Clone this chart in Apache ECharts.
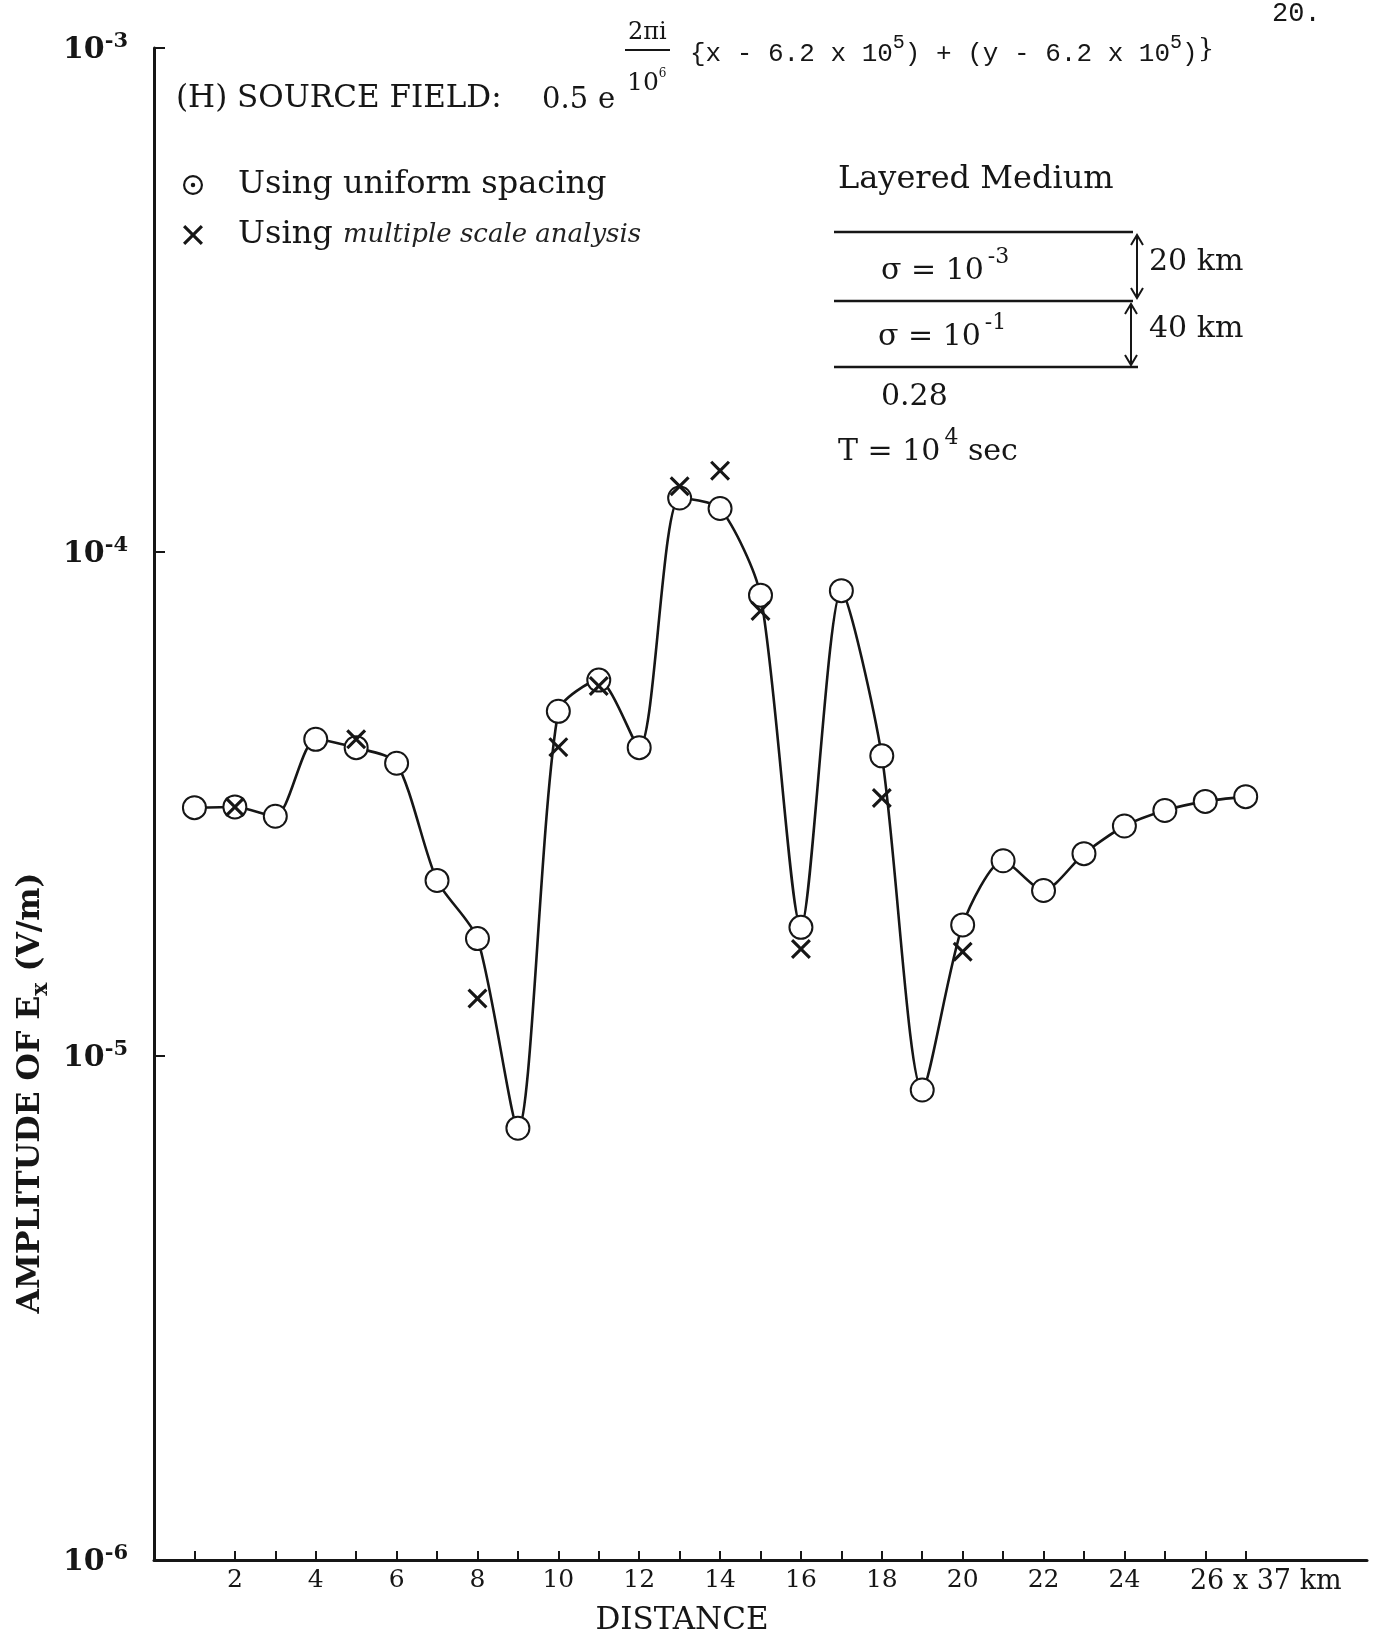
<!DOCTYPE html>
<html>
<head>
<meta charset="utf-8">
<script src="https://cdn.jsdelivr.net/npm/echarts@6/dist/echarts.min.js"></script>
<style>
html,body{margin:0;padding:0;background:#ffffff;}
#chart{width:1373px;height:1648px;}
</style>
</head>
<body>
<div id="chart"></div>
<script>
// ---- data ----
const distance = [1,2,3,4,5,6,7,8,9,10,11,12,13,14,15,16,17,18,19,20,21,22,23,24,25,26,27];
const uniformSpacing = [3.11e-5,3.12e-5,2.99e-5,4.25e-5,4.09e-5,3.81e-5,2.23e-5,1.71e-5,7.19e-6,4.83e-5,5.57e-5,4.09e-5,1.28e-4,1.22e-4,8.21e-5,1.80e-5,8.38e-5,3.94e-5,8.56e-6,1.82e-5,2.44e-5,2.13e-5,2.52e-5,2.86e-5,3.07e-5,3.20e-5,3.27e-5];
const multiScaleDistance = [2,5,8,10,11,13,14,15,16,18,20];
const multiScaleValues = [3.12e-5,4.25e-5,1.30e-5,4.10e-5,5.42e-5,1.35e-4,1.45e-4,7.64e-5,1.63e-5,3.25e-5,1.61e-5];
const xTickValues = [1,2,3,4,5,6,7,8,9,10,11,12,13,14,15,16,17,18,19,20,21,22,23,24,25,26,27];
const xLabelValues = [2,4,6,8,10,12,14,16,18,20,22,24,26];
const lastLabelText = '26 x 37 km';
const seriesNames = ['Using uniform spacing', 'Using multiple scale analysis'];

const INK = '#161616';
const SERIF = 'DejaVu Serif';
const MONO = 'Liberation Mono';

const uniformData = distance.map((d, i) => [d, uniformSpacing[i]]);
const multiData = multiScaleDistance.map((d, i) => [d, multiScaleValues[i]]);

const ringDot = 'path://M12,0A12,12 0 1,1 12,24A12,12 0 1,1 12,0ZM12,2.6A9.4,9.4 0 1,0 12,21.4A9.4,9.4 0 1,0 12,2.6ZM12,9.3A2.7,2.7 0 1,1 12,14.7A2.7,2.7 0 1,1 12,9.3Z';
const xMark = 'path://M0,2.2L2.2,0L10,7.8L17.8,0L20,2.2L12.2,10L20,17.8L17.8,20L10,12.2L2.2,20L0,17.8L7.8,10Z';

const chart = echarts.init(document.getElementById('chart'), null, {renderer: 'canvas'});

function txt(x, y, text, size, extra) {
  const el = {
    type: 'text', x: x, y: y, silent: true,
    style: Object.assign({text: text, fontFamily: SERIF, fontSize: size, fill: INK, align: 'left', verticalAlign: 'middle'}, (extra && extra.style) || {})
  };
  if (extra && extra.rotation !== undefined) el.rotation = extra.rotation;
  return el;
}
function seg(x1, y1, x2, y2, w) {
  return {type: 'line', silent: true, shape: {x1: x1, y1: y1, x2: x2, y2: y2}, style: {stroke: INK, lineWidth: w || 2}};
}
function pl(points, w) {
  return {type: 'polyline', silent: true, shape: {points: points}, style: {stroke: INK, lineWidth: w || 2, fill: null}};
}

const supRich = {
  m: {fontFamily: SERIF, fontSize: 30, color: INK, lineHeight: 40, verticalAlign: 'bottom'},
  s: {fontFamily: SERIF, fontSize: 22, color: INK, lineHeight: 22, verticalAlign: 'top', padding: [0, 0, 0, 4]}
};

const option = {
  backgroundColor: '#ffffff',
  animation: false,
  grid: {left: 154, right: 6, top: 48, bottom: 88, containLabel: false},
  legend: {
    orient: 'vertical', left: 178, top: 162, itemWidth: 20, itemHeight: 20, itemGap: 14,
    selectedMode: false,
    data: [{name: seriesNames[0], icon: ringDot}, {name: seriesNames[1], icon: xMark}],
    itemStyle: {borderWidth: 0},
    lineStyle: {width: 0},
    textStyle: {
      fontFamily: SERIF, fontSize: 32, color: INK, lineHeight: 36, padding: [0, 0, 0, 30],
      rich: {h: {fontFamily: SERIF, fontStyle: 'italic', fontSize: 26, color: '#222', lineHeight: 36}}
    },
    formatter: function (n) { return n === seriesNames[1] ? 'Using {h|multiple scale analysis}' : n; }
  },
  xAxis: {
    type: 'value', min: 0, max: 30, interval: 1,
    axisLine: {show: true, onZero: false, lineStyle: {color: INK, width: 3}},
    axisTick: {show: true, inside: true, length: 9, customValues: xTickValues, lineStyle: {color: INK, width: 2}},
    axisLabel: {
      show: true, customValues: xLabelValues, margin: 8,
      fontFamily: SERIF, fontSize: 25, color: INK,
      formatter: function (v) { return v === 26 ? '{k|' + lastLabelText + '}' : String(v); },
      rich: {k: {fontFamily: SERIF, fontSize: 27, color: INK, padding: [0, 0, 0, 121]}}
    },
    splitLine: {show: false}
  },
  yAxis: {
    type: 'log', logBase: 10, min: 1e-6, max: 1e-3,
    axisLine: {show: true, onZero: false, lineStyle: {color: INK, width: 3}},
    axisTick: {show: true, inside: true, length: 11, lineStyle: {color: INK, width: 2}},
    minorTick: {show: false},
    axisLabel: {
      margin: 26,
      formatter: function (v) { return '{b|10}{s|-' + Math.round(-Math.log10(v)) + '}'; },
      rich: {
        b: {fontFamily: SERIF, fontSize: 30, fontWeight: 'bold', color: INK, lineHeight: 34, verticalAlign: 'bottom'},
        s: {fontFamily: SERIF, fontSize: 21, fontWeight: 'bold', color: INK, lineHeight: 21, verticalAlign: 'top'}
      }
    },
    splitLine: {show: false}
  },
  series: [
    {
      name: seriesNames[0], type: 'line', data: uniformData,
      smooth: 0.25, symbol: 'emptyCircle', symbolSize: 23,
      lineStyle: {color: INK, width: 2.6},
      itemStyle: {color: INK, borderColor: INK, borderWidth: 2.6},
      z: 3
    },
    {
      name: seriesNames[1], type: 'scatter', data: multiData,
      symbol: xMark, symbolSize: 20,
      itemStyle: {color: INK, opacity: 1},
      z: 5
    }
  ],
  graphic: {
    elements: [
      // page number
      txt(1272, 14, '20.', 27, {style: {fontFamily: MONO}}),
      // source field formula
      txt(176, 99, '(H) SOURCE FIELD:', 31),
      txt(542, 100, '0.5', 29),
      txt(598, 100, 'e', 29),
      txt(627, 82, '{a|10}{b|6}', 24, {style: {rich: {
        a: {fontFamily: SERIF, fontSize: 25, color: INK, lineHeight: 28, verticalAlign: 'bottom'},
        b: {fontFamily: SERIF, fontSize: 12, color: '#777', lineHeight: 12, verticalAlign: 'top'}}}}),
      txt(628, 33, '2πi', 24),
      seg(625, 50, 670, 50, 1.8),
      txt(690, 50, '{m|{x - 6.2 x 10}{s|5}{m|) + (y - 6.2 x 10}{s|5}{m|)}}', 26, {style: {rich: {
        m: {fontFamily: MONO, fontSize: 26, color: INK, lineHeight: 34, verticalAlign: 'bottom'},
        s: {fontFamily: MONO, fontSize: 20, color: INK, lineHeight: 20, verticalAlign: 'top'}}}}),
      // layered medium sketch
      txt(838, 180, 'Layered Medium', 32),
      seg(834, 232, 1133, 232, 2.4),
      seg(834, 301, 1133, 301, 2.4),
      seg(834, 367, 1138, 367, 2.4),
      txt(881, 266, '{m|σ = 10}{s|-3}', 30, {style: {rich: supRich}}),
      txt(878, 332, '{m|σ = 10}{s|-1}', 30, {style: {rich: supRich}}),
      seg(1137, 236, 1137, 297, 2),
      pl([[1131, 245], [1137, 235], [1143, 245]], 2),
      pl([[1131, 288], [1137, 298], [1143, 288]], 2),
      seg(1131, 305, 1131, 364, 2),
      pl([[1125, 314], [1131, 304], [1137, 314]], 2),
      pl([[1125, 355], [1131, 365], [1137, 355]], 2),
      txt(1149, 262, '20 km', 30),
      txt(1149, 329, '40 km', 30),
      txt(881, 397, '0.28', 30),
      txt(838, 447, '{m|T = 10}{s|4}{m| sec}', 30, {style: {rich: supRich}}),
      // axis titles
      txt(31, 1093, '{a|AMPLITUDE OF E}{s|x}{a| (V/m)}', 31, {rotation: Math.PI / 2, style: {align: 'center', rich: {
        a: {fontFamily: SERIF, fontSize: 31.5, fontWeight: 'bold', color: INK, lineHeight: 42, verticalAlign: 'middle'},
        s: {fontFamily: SERIF, fontSize: 22, fontWeight: 'bold', color: INK, lineHeight: 22, verticalAlign: 'bottom'}}}}),
      txt(682, 1621, 'DISTANCE', 31, {style: {align: 'center'}})
    ]
  }
};

chart.setOption(option);
</script>
</body>
</html>
